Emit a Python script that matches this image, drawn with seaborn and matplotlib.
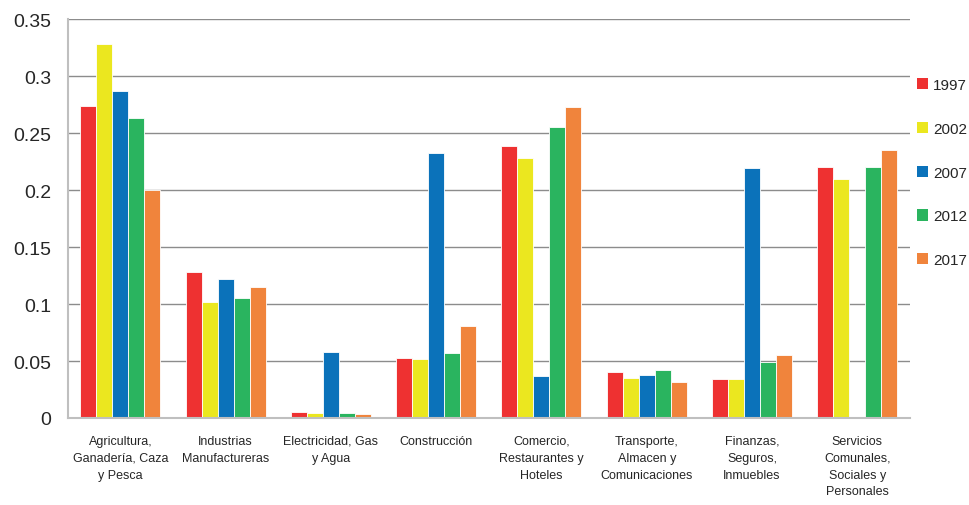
import numpy as np
import pandas as pd
import matplotlib
matplotlib.use("Agg")
import matplotlib.pyplot as plt
import seaborn as sns
from matplotlib.patches import Patch

sectors = [
    "Agricultura,\nGanadería, Caza\ny Pesca",
    "Industrias\nManufactureras",
    "Electricidad, Gas\ny Agua",
    "Construcción",
    "Comercio,\nRestaurantes y\nHoteles",
    "Transporte,\nAlmacen y\nComunicaciones",
    "Finanzas,\nSeguros,\nInmuebles",
    "Servicios\nComunales,\nSociales y\nPersonales",
]
years = ["1997", "2002", "2007", "2012", "2017"]

v1997 = [0.274, 0.128, 0.0053, 0.053, 0.239, 0.040, 0.034, 0.220]
v2002 = [0.328, 0.102, 0.0044, 0.052, 0.228, 0.035, 0.034, 0.210]
v2007 = [0.287, 0.122, 0.058, 0.233, 0.037, 0.038, 0.219, np.nan]
v2012 = [0.263, 0.105, 0.0044, 0.057, 0.255, 0.042, 0.049, 0.220]
v2017 = [0.200, 0.115, 0.0035, 0.081, 0.273, 0.032, 0.055, 0.235]

colors = ["#EE3131", "#EBE71F", "#0B72BA", "#2AB45F", "#F0843C"]

rows = []
for yr, vals in zip(years, [v1997, v2002, v2007, v2012, v2017]):
    for s, v in zip(sectors, vals):
        rows.append({"sector": s, "year": yr, "value": v})
df = pd.DataFrame(rows)

sns.set_theme(style="white")
plt.rcParams["font.family"] = ["Liberation Sans", "DejaVu Sans"]

fig = plt.figure(figsize=(9.69, 5.06), dpi=100)
ax = fig.add_axes([0.070, 0.172, 0.869, 0.788])

sns.barplot(data=df, x="sector", y="value", hue="year", palette=colors,
            width=0.76, gap=0, saturation=1, errorbar=None, ax=ax,
            edgecolor="white", linewidth=0.6, legend=False)

ax.set_ylim(0, 0.35)
ax.set_yticks(np.arange(0, 0.351, 0.05))
ax.set_yticklabels(["0", "0.05", "0.1", "0.15", "0.2", "0.25", "0.3", "0.35"], fontsize=14)
ax.yaxis.grid(True, color="#8C8C8C", linewidth=1.0)
ax.set_axisbelow(True)
ax.set_xlabel("")
ax.set_ylabel("")
ax.tick_params(axis="x", labelsize=9, pad=12, length=0)
ax.tick_params(axis="y", length=0, pad=12)
for lab in ax.get_xticklabels():
    lab.set_horizontalalignment("center")
    lab.set_linespacing(1.55)

for side in ["top", "right"]:
    ax.spines[side].set_visible(False)
for side in ["left", "bottom"]:
    ax.spines[side].set_color("#BFBFBF")
    ax.spines[side].set_linewidth(1.5)

handles = [Patch(facecolor=c, edgecolor="none") for c in colors]
ax.legend(handles, years, loc="upper left", bbox_to_anchor=(917 / 969, 1 - 79 / 506),
          bbox_transform=fig.transFigure, borderpad=0, borderaxespad=0,
          frameon=False, fontsize=11, handlelength=0.75, handleheight=0.75,
          handletextpad=0.3, labelspacing=1.95)

fig.savefig("out.png", dpi=100)
